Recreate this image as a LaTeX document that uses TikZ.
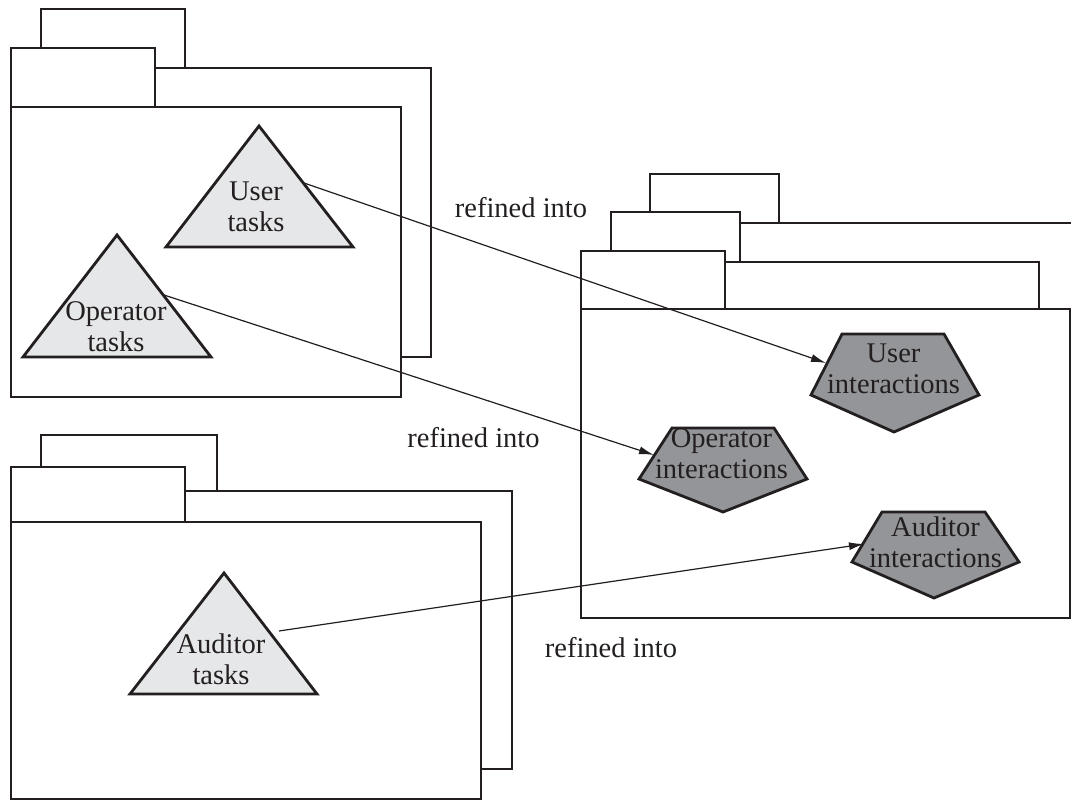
\documentclass[tikz,border=0pt]{standalone}
\usepackage{fontspec}
\setmainfont{Liberation Serif}
\usetikzlibrary{arrows.meta}
\definecolor{ink}{HTML}{231F20}
\definecolor{taskfill}{HTML}{E6E7E8}
\definecolor{ifill}{HTML}{939598}
\begin{document}
\begin{tikzpicture}[x=1pt,y=-1pt,
  pkg/.style={draw=ink,line width=2.8pt,fill=white},
  task/.style={draw=ink,line width=2.8pt,fill=taskfill},
  inter/.style={draw=ink,line width=2.8pt,fill=ifill},
  lbl/.style={text=ink,font=\fontsize{28.5}{31}\selectfont,align=center,inner sep=0pt},
  refine/.style={-{Latex[length=15pt,width=8pt]},draw=ink,line width=1.2pt}]
\clip (0,0) rectangle (1071,800);

% ---------- right package group (three stacked) ----------
\draw[pkg] (650,174) rectangle (779,223);
\draw[pkg] (650,223) rectangle (1110,500);
\draw[pkg] (611,212) rectangle (740,262);
\draw[pkg] (611,262) rectangle (1039,500);
\draw[pkg] (581,251) rectangle (725,309);
\draw[pkg] (581,309) rectangle (1070,618);

% ---------- top-left package group ----------
\draw[pkg] (41,9) rectangle (185,68);
\draw[pkg] (41,68) rectangle (431,357);
\draw[pkg] (11,48) rectangle (155,107);
\draw[pkg] (11,107) rectangle (401,397);

% ---------- bottom-left package group ----------
\draw[pkg] (41,435) rectangle (217,491);
\draw[pkg] (41,491) rectangle (512,769);
\draw[pkg] (11,467) rectangle (185,522);
\draw[pkg] (11,522) rectangle (481,799);

% ---------- task triangles ----------
\draw[task] (259,126) -- (353,247) -- (166,247) -- cycle;
\node[lbl] (usertasks) at (256,207) {User\\tasks};

\draw[task] (117,235) -- (211,357) -- (23,357) -- cycle;
\node[lbl] (optasks) at (116,327) {Operator\\tasks};

\draw[task] (224,573) -- (317,694) -- (130,694) -- cycle;
\node[lbl] (audtasks) at (221,659) {Auditor\\tasks};

% ---------- interaction pentagons ----------
\draw[inter] (842,334) -- (944,334) -- (979,395) -- (894,432) -- (811,395) -- cycle;
\node[lbl] (userint) at (893.5,369) {User\\interactions};

\draw[inter] (672,428) -- (774,428) -- (807,479) -- (723,512) -- (639,479) -- cycle;
\node[lbl] (opint) at (721.5,454) {Operator\\interactions};

\draw[inter] (882,512) -- (985,512) -- (1019,562) -- (934,598) -- (852,562) -- cycle;
\node[lbl] (audint) at (935.5,542) {Auditor\\interactions};

% ---------- connector end points ----------
\coordinate (ut-out) at (304,183);
\coordinate (ui-in) at (826,363);
\coordinate (ot-out) at (164,295);
\coordinate (oi-in) at (654,455);
\coordinate (at-out) at (279,631);
\coordinate (ai-in) at (864,544);

\draw[refine] (ut-out) -- (ui-in);
\draw[refine] (ot-out) -- (oi-in);
\draw[refine] (at-out) -- (ai-in);

% ---------- labels ----------
\node[lbl,anchor=base] (ref1) at (521,217) {refined into};
\node[lbl,anchor=base] (ref2) at (473.5,447) {refined into};
\node[lbl,anchor=base] (ref3) at (611,657) {refined into};
\end{tikzpicture}
\end{document}
